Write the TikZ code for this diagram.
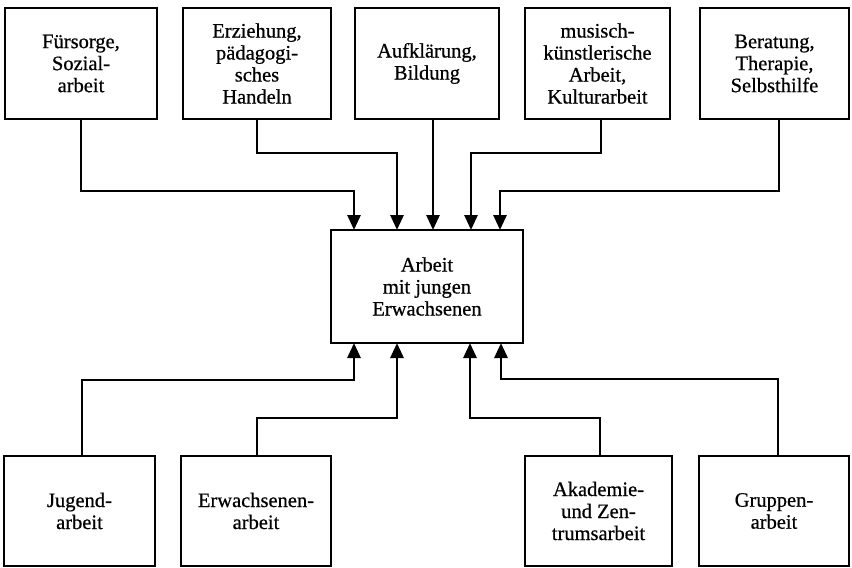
\documentclass[tikz,border=0pt]{standalone}
\usepackage{fontspec}
\setmainfont{Liberation Serif}
\newfontfamily\printface[FakeBold=0.6]{Liberation Serif}
\usetikzlibrary{arrows.meta}
\begin{document}
\begin{tikzpicture}[x=1pt,y=-1pt,
  field/.style={draw, line width=2.8pt, rectangle, inner sep=0pt, outer sep=0pt,
    align=center, font=\printface\fontsize{20.5}{22}\selectfont},
  topbox/.style={field, minimum height=111pt},
  botbox/.style={field, minimum height=110pt},
  link/.style={line width=2.8pt, line join=miter, -{Triangle[length=15pt,width=13pt]}}]
\useasboundingbox (0,0) rectangle (852,568);

% fields of work feeding in from above
\node[topbox, minimum width=152pt] (t1) at (81,63.5) {Fürsorge,\\Sozial-\\arbeit};
\node[topbox, minimum width=148pt] (t2) at (257,63.5) {Erziehung,\\pädagogi-\\sches\\Handeln};
\node[topbox, minimum width=144pt] (t3) at (427,63.5) {Aufklärung,\\Bildung};
\node[topbox, minimum width=145pt] (t4) at (597.5,63.5) {musisch-\\künstlerische\\Arbeit,\\Kulturarbeit};
\node[topbox, minimum width=149pt] (t5) at (774.5,63.5) {Beratung,\\Therapie,\\Selbsthilfe};

% central field
\node[field, minimum width=192pt, minimum height=113pt] (c) at (427,286.5) {Arbeit\\mit jungen\\Erwachsenen};

% forms of work feeding in from below
\node[botbox, minimum width=151pt] (b1) at (79.5,511) {Jugend-\\arbeit};
\node[botbox, minimum width=150pt] (b2) at (256,511) {Erwachsenen-\\arbeit};
\node[botbox, minimum width=147pt] (b3) at (598.5,511) {Akademie-\\und Zen-\\trumsarbeit};
\node[botbox, minimum width=150pt] (b4) at (774,511) {Gruppen-\\arbeit};

% connectors from the upper row
\draw[link] (t1.south) -- (t1.south |- 0,191) -| ([xshift=-73pt]c.north);
\draw[link] (t2.south) -- (t2.south |- 0,153) -| ([xshift=-30pt]c.north);
\draw[link] ([xshift=6pt]t3.south) -- ([xshift=6pt]c.north);
\draw[link] ([xshift=3.5pt]t4.south) -- ([xshift=3.5pt]t4.south |- 0,153) -| ([xshift=44pt]c.north);
\draw[link] ([xshift=4.5pt]t5.south) -- ([xshift=4.5pt]t5.south |- 0,191) -| ([xshift=73pt]c.north);

% connectors from the lower row
\draw[link] ([xshift=2.5pt]b1.north) -- ([xshift=2.5pt]b1.north |- 0,380) -| ([xshift=-73pt]c.south);
\draw[link] ([xshift=1pt]b2.north) -- ([xshift=1pt]b2.north |- 0,418) -| ([xshift=-30pt]c.south);
\draw[link] ([xshift=1.5pt]b3.north) -- ([xshift=1.5pt]b3.north |- 0,418) -| ([xshift=43pt]c.south);
\draw[link] ([xshift=4pt]b4.north) -- ([xshift=4pt]b4.north |- 0,379) -| ([xshift=74pt]c.south);
\end{tikzpicture}
\end{document}
